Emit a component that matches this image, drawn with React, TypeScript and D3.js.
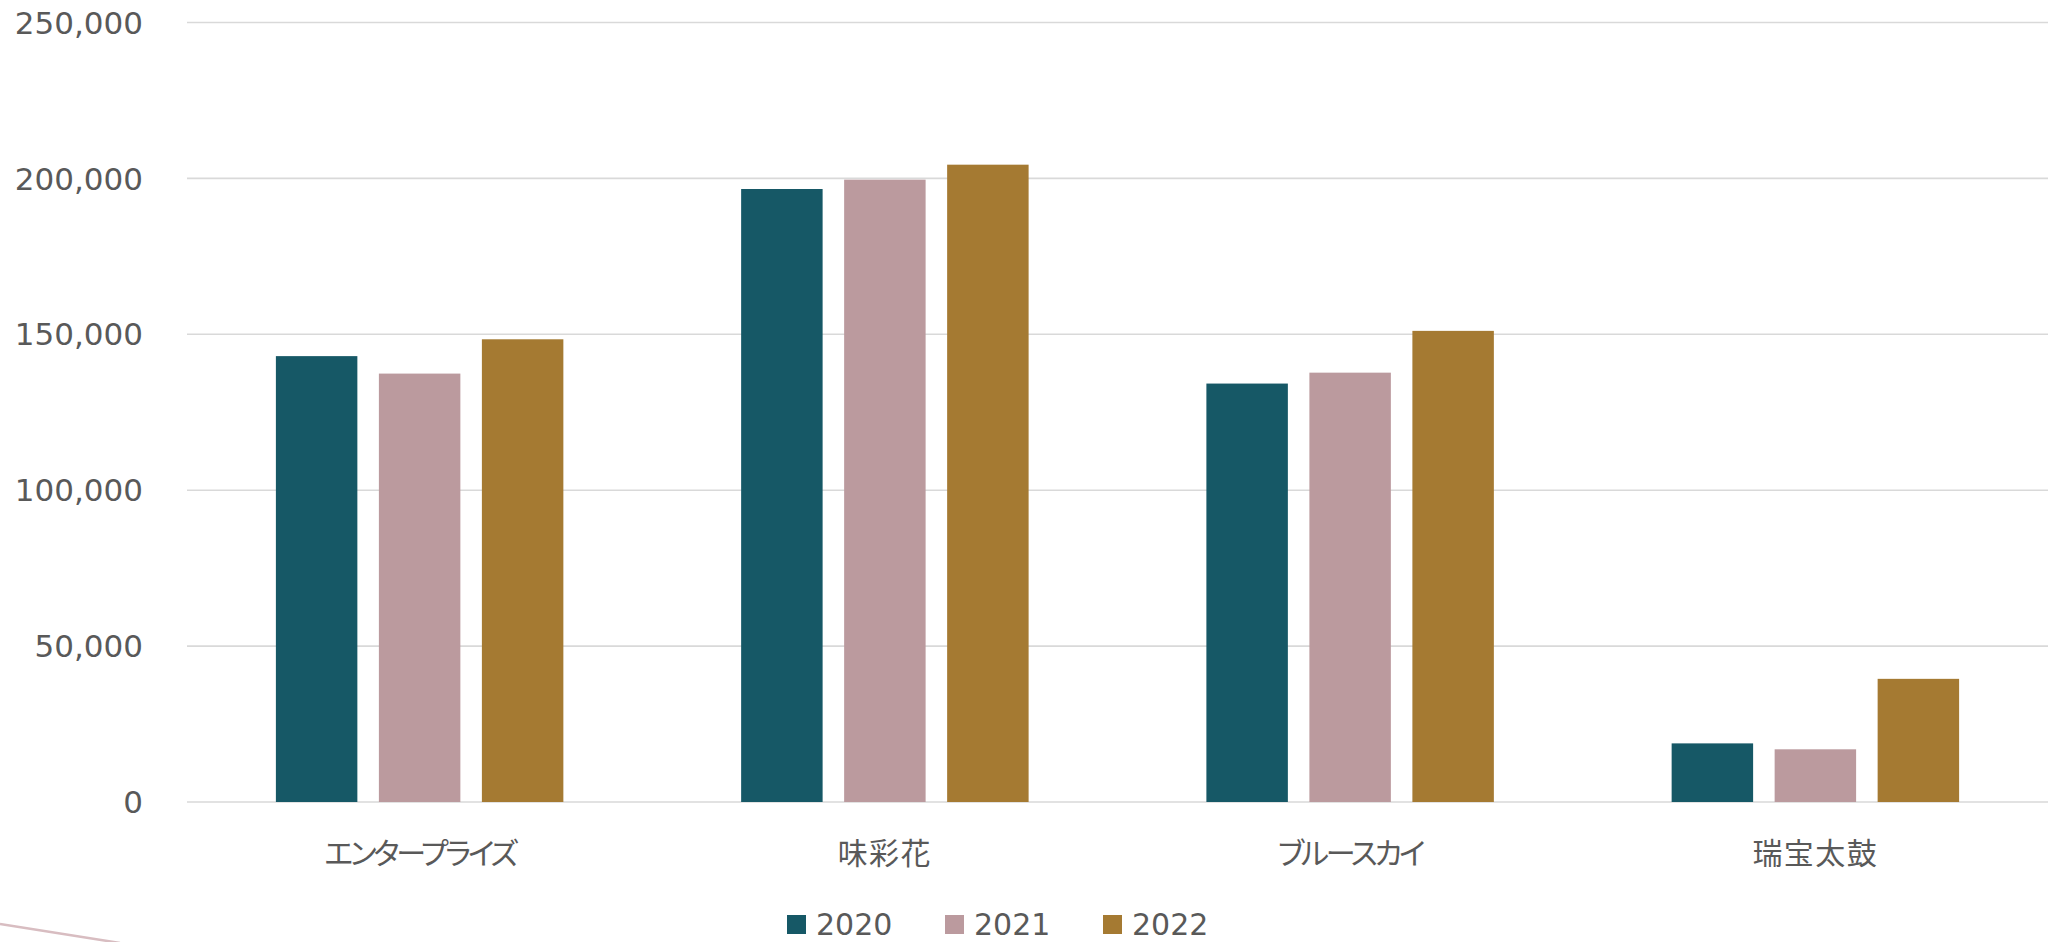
import { useEffect, useRef } from 'react';
import * as d3 from 'd3';

const categories = ['エンタープライズ', '味彩花', 'ブルースカイ', '瑞宝太鼓'];
const seriesNames = ['2020', '2021', '2022'];
const values2020 = [143000, 196600, 134200, 18800];
const values2021 = [137400, 199600, 137700, 16900];
const values2022 = [148400, 204400, 151100, 39500];
const colors = ['#165866', '#BB9A9E', '#A57A32'];
const yTicks = [0, 50000, 100000, 150000, 200000, 250000];

interface BarDatum {
  category: string;
  series: string;
  value: number;
}

export default function App() {
  const svgRef = useRef<SVGSVGElement>(null);

  useEffect(() => {
    if (!svgRef.current) return;
    const svg = d3.select(svgRef.current);
    svg.selectAll('*').remove();

    const width = 2048;
    const height = 942;
    const plot = { left: 187, right: 2048, top: 22.5, bottom: 802 };
    const numFont = '"DejaVu Sans", Verdana, sans-serif';
    const cjkFont = '"Noto Sans CJK JP", "Noto Sans", sans-serif';
    const textColor = '#595959';

    svg.attr('width', width).attr('height', height);

    const allSeries = [values2020, values2021, values2022];
    const bars: BarDatum[] = [];
    categories.forEach((c, i) => {
      seriesNames.forEach((s, j) => {
        bars.push({ category: c, series: s, value: allSeries[j][i] });
      });
    });

    const x0 = d3.scaleBand<string>()
      .domain(categories)
      .range([plot.left, plot.right])
      .padding(0);

    const x1 = d3.scaleBand<string>()
      .domain(seriesNames)
      .range([0, x0.bandwidth()])
      .paddingInner(0.209)
      .paddingOuter(0.863);

    const y = d3.scaleLinear()
      .domain([0, 250000])
      .range([plot.bottom, plot.top]);

    const color = d3.scaleOrdinal<string, string>()
      .domain(seriesNames)
      .range(colors);

    // gridlines
    svg.append('g')
      .selectAll('line')
      .data(yTicks)
      .join('line')
      .attr('x1', plot.left)
      .attr('x2', plot.right)
      .attr('y1', d => y(d))
      .attr('y2', d => y(d))
      .attr('stroke', '#D9D9D9')
      .attr('stroke-width', 1.6);

    // y labels
    svg.append('g')
      .selectAll('text')
      .data(yTicks)
      .join('text')
      .attr('x', 143)
      .attr('y', d => y(d))
      .attr('dy', '0.36em')
      .attr('text-anchor', 'end')
      .attr('font-family', numFont)
      .attr('font-size', 31)
      .attr('fill', textColor)
      .text(d => d3.format(',')(d));

    // bars
    svg.append('g')
      .selectAll('rect')
      .data(bars)
      .join('rect')
      .attr('x', d => (x0(d.category) ?? 0) + (x1(d.series) ?? 0))
      .attr('width', x1.bandwidth())
      .attr('y', d => y(d.value))
      .attr('height', d => y(0) - y(d.value))
      .attr('fill', d => color(d.series));

    // category labels (kana is set narrower than kanji in the original font)
    const isKana = (s: string) => /[\u30A0-\u30FF]/.test(s);
    svg.append('g')
      .selectAll('text')
      .data(categories)
      .join('text')
      .attr('x', d => (x0(d) ?? 0) + x0.bandwidth() / 2)
      .attr('y', 864)
      .attr('text-anchor', 'middle')
      .attr('font-family', cjkFont)
      .attr('font-size', 30)
      .style('font-feature-settings', '"palt"')
      .style('letter-spacing', d => (isKana(d) ? '-3.2px' : '1.5px'))
      .attr('fill', textColor)
      .text(d => d);

    // legend
    const legend = svg.append('g')
      .selectAll('g')
      .data(seriesNames)
      .join('g')
      .attr('transform', (_d, i) => `translate(${787 + i * 158},0)`);

    legend.append('rect')
      .attr('x', 0)
      .attr('y', 915)
      .attr('width', 19)
      .attr('height', 19)
      .attr('fill', d => color(d));

    legend.append('text')
      .attr('x', 29)
      .attr('y', 935)
      .attr('font-family', numFont)
      .attr('font-size', 30)
      .attr('fill', textColor)
      .text(d => d);

    // decorative stroke, bottom left
    svg.append('line')
      .attr('x1', 0)
      .attr('y1', 924)
      .attr('x2', 120)
      .attr('y2', 943)
      .attr('stroke', '#D8BDC1')
      .attr('stroke-width', 2.5);
  }, []);

  return (
    <div style={{ position: 'absolute', left: 0, top: 0, width: 2048, height: 942, background: '#fff' }}>
      <svg ref={svgRef} style={{ display: 'block' }} />
    </div>
  );
}
